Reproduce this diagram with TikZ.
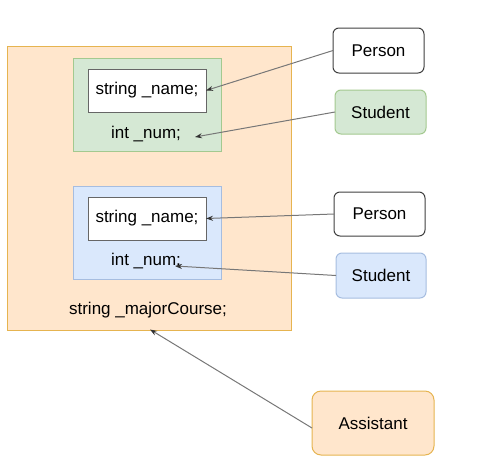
\documentclass[tikz,border=0pt]{standalone}
\usepackage{fontspec}
\setmainfont{Liberation Sans}
\usetikzlibrary{arrows.meta}
\definecolor{ofill}{HTML}{FFE6CC}
\definecolor{ostroke}{HTML}{E6B450}
\definecolor{gfill}{HTML}{D5E8D4}
\definecolor{gstroke}{HTML}{A3C98F}
\definecolor{bfill}{HTML}{DAE8FC}
\definecolor{bstroke}{HTML}{A6BDE0}
\definecolor{lgray}{HTML}{666666}
\definecolor{agray}{HTML}{777777}
\tikzset{
  box/.style={draw, line width=1pt, inner sep=0pt, outer sep=0pt},
  rbox/.style={box, rounded corners=6pt},
  txt/.style={font=\fontsize{17}{20}\selectfont, inner sep=0pt},
  arr/.style={draw=agray, line width=1pt, -{Stealth[length=7pt,width=5pt,color=black!80]}}
}
\begin{document}
\begin{tikzpicture}[x=1pt,y=-1pt]
\useasboundingbox (0,0) rectangle (479,472);
% containers
\node[box, fill=ofill, draw=ostroke, minimum width=284pt, minimum height=284pt] (outer) at (149,188) {};
\node[box, fill=gfill, draw=gstroke, minimum width=148pt, minimum height=93pt] (green) at (147,104.5) {};
\node[box, fill=white, draw=lgray, minimum width=118pt, minimum height=43pt, txt] (name1) at (147,90.5) {string \_name;};
\node[txt] (num1) at (146,134) {int \_num;};
\node[box, fill=bfill, draw=bstroke, minimum width=148pt, minimum height=93pt] (blue) at (147,232.5) {};
\node[box, fill=white, draw=lgray, minimum width=118pt, minimum height=43pt, txt] (name2) at (147,218.5) {string \_name;};
\node[txt] (num2) at (146,261) {int \_num;};
\node[txt] (major) at (148,310) {string \_majorCourse;};
% class boxes
\node[rbox, fill=white, draw=black!75, minimum width=91pt, minimum height=45pt, txt] (person1) at (378.5,50.5) {Person};
\node[rbox, fill=gfill, draw=gstroke, minimum width=91pt, minimum height=44pt, txt] (student1) at (380.5,112) {Student};
\node[rbox, fill=white, draw=black!75, minimum width=91pt, minimum height=44pt, txt] (person2) at (379.5,214) {Person};
\node[rbox, fill=bfill, draw=bstroke, minimum width=90pt, minimum height=45pt, txt] (student2) at (381,275.5) {Student};
\node[rbox, rounded corners=9pt, fill=ofill, draw=ostroke, minimum width=122pt, minimum height=64pt, txt] (assistant) at (373,423) {Assistant};
% arrow targets
\coordinate (t1) at (195,137);
\coordinate (t2) at (175,266);
\coordinate (t3) at (150,329.5);
% connectors
\draw[arr] (person1.west) -- (name1.east);
\draw[arr] (student1.west) -- (t1);
\draw[arr] (person2.west) -- (name2.east);
\draw[arr] (student2.west) -- (t2);
\draw[arr] ([yshift=-5pt]assistant.west) -- (t3);
\end{tikzpicture}
\end{document}
